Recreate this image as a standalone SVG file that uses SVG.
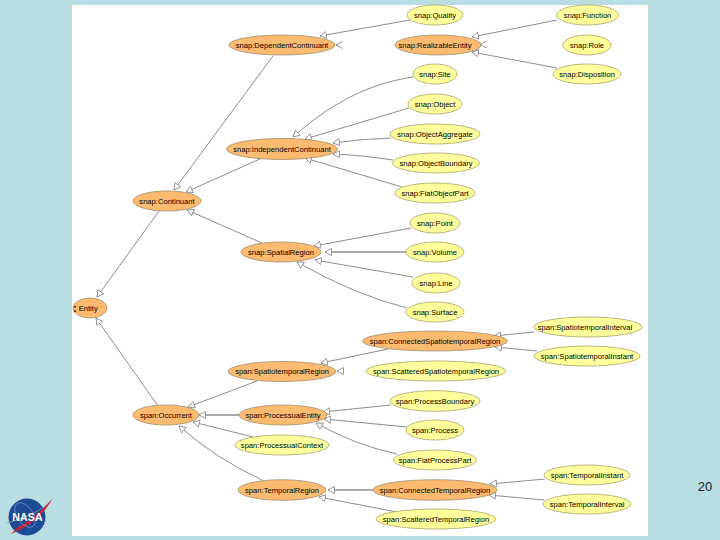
<svg xmlns="http://www.w3.org/2000/svg" width="720" height="540" viewBox="0 0 720 540">
<style>
.o{fill:#fdbb72;stroke:#a08f68;stroke-width:.8}
.y{fill:#ffff9c;stroke:#a8a468;stroke-width:.8}
text{font-family:"Liberation Sans",Arial,sans-serif;font-size:7.6px;fill:#000;text-anchor:middle;dominant-baseline:central}
#connectors path{fill:none;stroke:#808080;stroke-width:.9;marker-end:url(#tri)}
#connectors path.d{stroke:#555;stroke-width:1.2}
#connectors path.v{marker-end:url(#chev)}
</style>
<defs>
<marker id="tri" markerUnits="userSpaceOnUse" markerWidth="10" markerHeight="10" refX="7" refY="4" orient="auto">
<path d="M.5 .5L7 4L.5 7.500Z" fill="#fff" stroke="#808080" stroke-width=".8"/>
</marker>
<marker id="chev" markerUnits="userSpaceOnUse" markerWidth="10" markerHeight="10" refX="7" refY="4" orient="auto">
<path d="M.5 .5L7 4L.5 7.500" fill="none" stroke="#808080" stroke-width=".8"/>
</marker>
</defs>
<rect width="720" height="540" fill="#b8dde2"/>
<rect x="72" y="5" width="576" height="531" fill="#fff"/>
<g id="connectors">
<path d="M410 20L320 36"/>
<path d="M557 20L472 37"/>
<path d="M557 68L472 52"/>
<path class="v" d="M482 44.500L480 44.500"/>
<path class="v" d="M338 45L336 45"/>
<path d="M273 56L174 190"/>
<path d="M262 158L186 192"/>
<path d="M262 243L187 210"/>
<path d="M413 77C380 82 340 95 293 137"/>
<path d="M409 108L305 139"/>
<path d="M391 138Q360 139 333 143"/>
<path d="M393 160Q360 155 333 154"/>
<path d="M402 187L305 158"/>
<path d="M411 228L314 246"/>
<path class="d" d="M406 252L325 252"/>
<path d="M413 277L315 260"/>
<path d="M407 308Q355 295 297 262"/>
<path d="M159 211L97 297"/>
<path d="M158 406L96 318"/>
<path d="M257 381L188 407"/>
<path class="d" d="M239 415L199 415"/>
<path d="M253 437L193 422"/>
<path d="M262 480Q215 458 179 426"/>
<path d="M388 349L321 363"/>
<path d="M339 371L337 371"/>
<path d="M534 332L494 336"/>
<path d="M537 351L495 347"/>
<path d="M391 405L323 412"/>
<path d="M407 427L324 419"/>
<path d="M397 454Q355 445 316 423"/>
<path class="d" d="M373 490L328 490"/>
<path d="M397 512L319 497"/>
<path d="M545 479L490 484"/>
<path d="M544 500L489 495"/>
</g>
<g id="n-quality"><ellipse class="y" cx="435" cy="15" rx="28" ry="10"/><text x="435" y="15">snap:Quality</text></g>
<g id="n-function"><ellipse class="y" cx="587.500" cy="15" rx="31" ry="10"/><text x="587.500" y="15">snap:Function</text></g>
<g id="n-role"><ellipse class="y" cx="587" cy="45" rx="24" ry="10"/><text x="587" y="45">snap:Role</text></g>
<g id="n-disposition"><ellipse class="y" cx="587" cy="74" rx="34" ry="10"/><text x="587" y="74">snap:Disposition</text></g>
<g id="n-realizable"><ellipse class="o" cx="438" cy="45" rx="43" ry="10"/><text x="435" y="45">snap:RealizableEntity</text></g>
<g id="n-dependent"><ellipse class="o" cx="282" cy="45" rx="53" ry="10"/><text x="282" y="45">snap:DependentContinuant</text></g>
<g id="n-site"><ellipse class="y" cx="435" cy="74" rx="22" ry="10"/><text x="435" y="74">snap:Site</text></g>
<g id="n-object"><ellipse class="y" cx="435" cy="104" rx="27" ry="10"/><text x="435" y="104">snap:Object</text></g>
<g id="n-aggregate"><ellipse class="y" cx="435" cy="134" rx="45" ry="10"/><text x="435" y="134">snap:ObjectAggregate</text></g>
<g id="n-boundary"><ellipse class="y" cx="436" cy="163" rx="43.500" ry="10"/><text x="436" y="163">snap:ObjectBoundary</text></g>
<g id="n-fiatobject"><ellipse class="y" cx="435" cy="193" rx="40" ry="10"/><text x="435" y="193">snap:FiatObjectPart</text></g>
<g id="n-independent"><ellipse class="o" cx="282" cy="149" rx="55.500" ry="10.500"/><text x="282" y="149">snap:IndependentContinuant</text></g>
<g id="n-continuant"><ellipse class="o" cx="167" cy="201" rx="34" ry="10"/><text x="167" y="201">snap:Continuant</text></g>
<g id="n-spatial"><ellipse class="o" cx="281" cy="252" rx="40" ry="10"/><text x="281" y="252">snap:SpatialRegion</text></g>
<g id="n-point"><ellipse class="y" cx="435" cy="223" rx="25" ry="10"/><text x="435" y="223">snap:Point</text></g>
<g id="n-volume"><ellipse class="y" cx="435" cy="252" rx="29" ry="10"/><text x="435" y="252">snap:Volume</text></g>
<g id="n-line"><ellipse class="y" cx="436" cy="283" rx="24" ry="10"/><text x="436" y="283">snap:Line</text></g>
<g id="n-surface"><ellipse class="y" cx="435" cy="312" rx="29" ry="10"/><text x="435" y="312">snap:Surface</text></g>
<g id="n-entity"><ellipse class="o" cx="90" cy="308" rx="17" ry="10"/><text x="85.500" y="308"><tspan font-weight="bold" font-size="10px">:</tspan> Entity</text></g>
<g id="n-cstr"><ellipse class="o" cx="435" cy="341" rx="72.500" ry="10"/><text x="435" y="341">span:ConnectedSpatiotemporalRegion</text></g>
<g id="n-stinterval"><ellipse class="y" cx="588" cy="327" rx="54" ry="10"/><text x="585" y="327">span:SpatiotemporalInterval</text></g>
<g id="n-stinstant"><ellipse class="y" cx="587" cy="356" rx="53" ry="10"/><text x="587" y="356">span:SpatiotemporalInstant</text></g>
<g id="n-sstr"><ellipse class="y" cx="436" cy="371" rx="70" ry="10"/><text x="436" y="371">span:ScatteredSpatiotemporalRegion</text></g>
<g id="n-str"><ellipse class="o" cx="282" cy="371.500" rx="54" ry="10"/><text x="282" y="371.500">span:SpatiotemporalRegion</text></g>
<g id="n-occurrent"><ellipse class="o" cx="166" cy="415" rx="33" ry="10"/><text x="166" y="415">span:Occurrent</text></g>
<g id="n-procentity"><ellipse class="o" cx="283" cy="415" rx="44" ry="10"/><text x="283" y="415">span:ProcessualEntity</text></g>
<g id="n-context"><ellipse class="y" cx="282" cy="445" rx="47" ry="10"/><text x="282" y="445">span:ProcessualContext</text></g>
<g id="n-procbound"><ellipse class="y" cx="435" cy="401" rx="45" ry="10.300"/><text x="435" y="401">span:ProcessBoundary</text></g>
<g id="n-process"><ellipse class="y" cx="435" cy="430" rx="29" ry="10"/><text x="435" y="430">span:Process</text></g>
<g id="n-fiatproc"><ellipse class="y" cx="435" cy="460" rx="41.500" ry="10"/><text x="435" y="460">span:FiatProcessPart</text></g>
<g id="n-temporal"><ellipse class="o" cx="282" cy="490" rx="44" ry="10.300"/><text x="282" y="490">span:TemporalRegion</text></g>
<g id="n-ctr"><ellipse class="o" cx="435" cy="490" rx="62" ry="10.300"/><text x="435" y="490">span:ConnectedTemporalRegion</text></g>
<g id="n-tstr"><ellipse class="y" cx="436" cy="519" rx="60" ry="10"/><text x="436" y="519">span:ScatteredTemporalRegion</text></g>
<g id="n-tinstant"><ellipse class="y" cx="587" cy="475" rx="43" ry="10"/><text x="587" y="475">span:TemporalInstant</text></g>
<g id="n-tinterval"><ellipse class="y" cx="587" cy="504" rx="44" ry="10"/><text x="587" y="504">span:TemporalInterval</text></g>
<text x="705" y="486" style="font-size:13px;fill:#222">20</text>
<g id="nasa-logo">
<circle cx="27" cy="517" r="18.500" fill="#1c4a94"/>
<path d="M6 523C18 521 38 512 45 506" fill="none" stroke="#9aa6bc" stroke-width=".7"/>
<path d="M18 527C30 522 42 510 52 499C45 513 32 525 11 534Z" fill="#c4233a"/>
<ellipse cx="25" cy="515" rx="8" ry="14" transform="rotate(-35 25 515)" fill="none" stroke="#9db6dc" stroke-width=".5"/>
<text x="27.500" y="517" style="font-size:10.500px;font-weight:bold;fill:#fff;letter-spacing:.2px">NASA</text>
</g>
</svg>
